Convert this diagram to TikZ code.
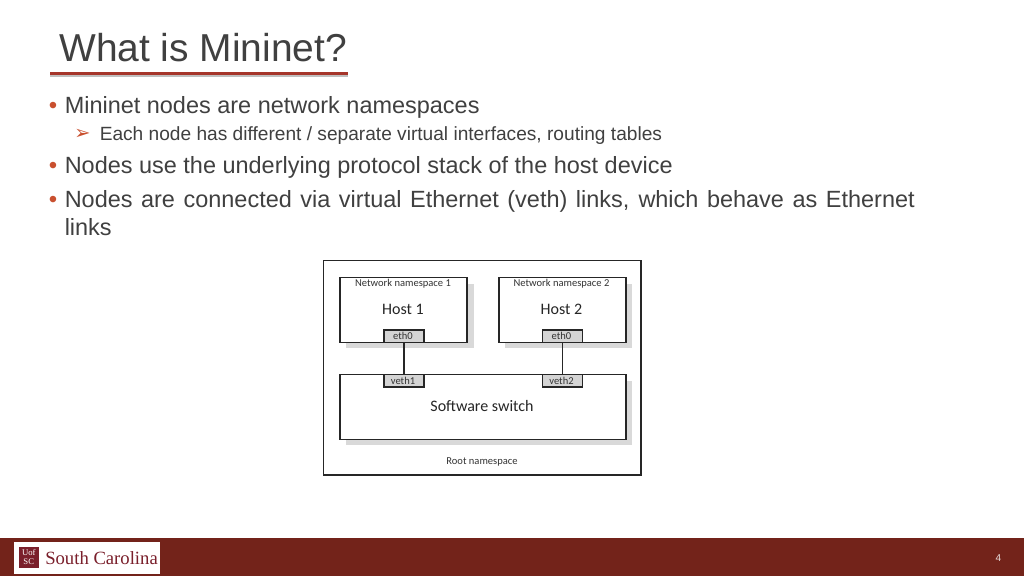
\documentclass[tikz,border=0pt]{standalone}
\usepackage{fontspec}
\setmainfont{Liberation Sans}
\newfontfamily\diagfont{Carlito}
\newfontfamily\logofont{Liberation Serif}
\newfontfamily\symfont{DejaVu Sans}
\definecolor{barred}{HTML}{73231A}
\definecolor{rulered}{HTML}{A5352A}
\definecolor{bulletred}{HTML}{C9502F}
\definecolor{garnet}{HTML}{7A1F2B}
\definecolor{bodytext}{HTML}{404040}
\definecolor{shadowgray}{HTML}{D9D9D9}
\definecolor{portgray}{HTML}{D4D4D4}
\definecolor{linegray}{HTML}{262626}
\tikzset{
  x=0.75pt,y=-0.75pt,
  txt/.style={anchor=base west,inner sep=0pt,text=bodytext},
  bodyline/.style={txt,font=\fontsize{17.6}{18}\selectfont},
  subline/.style={txt,font=\fontsize{14.35}{15}\selectfont},
  bulletdot/.style={anchor=center,inner sep=0pt,text=bulletred,font=\fontsize{18}{18}\selectfont},
  frame/.style={draw=linegray,line width=1pt,fill=white},
  shade/.style={fill=shadowgray,draw=none},
  port/.style={draw=linegray,line width=1pt,fill=portgray},
  dlabel/.style={anchor=base,inner sep=0pt,text=black!80,font=\diagfont\fontsize{7.9}{9}\selectfont},
  dbig/.style={anchor=base,inner sep=0pt,text=black!85,font=\diagfont\fontsize{12}{13}\selectfont},
  wire/.style={draw=linegray,line width=1pt}
}
\begin{document}
\begin{tikzpicture}
\useasboundingbox (0,0) rectangle (1024,576);
\fill[white] (0,0) rectangle (1024,576);
% title
\node[txt,font=\fontsize{29.2}{30}\selectfont] (title) at (59,61.5) {What is Mininet?};
\fill[black!25] (50,74.8) rectangle (348,76.8);
\fill[rulered] (50,72) rectangle (348,74.8);
% body
\node[bulletdot] (b1) at (53,107.5) {•};
\node[bodyline] (t1) at (64.5,113) {Mininet nodes are network namespaces};
\node[anchor=center,inner sep=0pt,text=bulletred,font=\symfont\fontsize{14.5}{15}\selectfont] (b1a) at (82.5,134) {➢};
\node[subline] (t1a) at (99.5,140) {Each node has different / separate virtual interfaces, routing tables};
\node[bulletdot] (b2) at (53,167.5) {•};
\node[bodyline] (t2) at (64.5,173) {Nodes use the underlying protocol stack of the host device};
\node[bulletdot] (b3) at (53,201.5) {•};
\node[bodyline] (t3) at (64.5,207) {\makebox[637.5pt][s]{Nodes are connected via virtual Ethernet (veth) links, which behave as Ethernet}};
\node[bodyline] (t3b) at (64.5,235) {links};
% diagram
\draw[frame] (323.7,260.7) rectangle (641,475);
\fill[shade] (345.8,283.5) rectangle (473.5,348.2);
\fill[shade] (504.8,283.5) rectangle (631.8,348.2);
\fill[shade] (345.8,380.5) rectangle (631.8,445.2);
\node[frame,minimum width=95.25pt,minimum height=48.5pt,inner sep=0pt,anchor=north west] (h1) at (339.3,277) {};
\node[frame,minimum width=95.25pt,minimum height=48.5pt,inner sep=0pt,anchor=north west] (h2) at (498.3,277) {};
\node[frame,minimum width=214.5pt,minimum height=48.5pt,inner sep=0pt,anchor=north west] (sw) at (339.3,374) {};
\node[port,minimum width=30pt,minimum height=9.3pt,inner sep=0pt,anchor=north west] (e1) at (383.3,329.3) {};
\node[port,minimum width=30pt,minimum height=9.3pt,inner sep=0pt,anchor=north west] (e2) at (541.7,329.3) {};
\node[port,minimum width=30pt,minimum height=9.3pt,inner sep=0pt,anchor=north west] (v1) at (383.3,374) {};
\node[port,minimum width=30pt,minimum height=9.3pt,inner sep=0pt,anchor=north west] (v2) at (541.7,374) {};
\draw[wire] (e1.south) -- (v1.north);
\draw[wire] (e2.south) -- (v2.north);
\node[dlabel] (l1) at (403,286.5) {Network namespace 1};
\node[dlabel] (l2) at (561.5,286.5) {Network namespace 2};
\node[dbig] (l3) at (403,314) {Host 1};
\node[dbig] (l4) at (561.5,314) {Host 2};
\node[dlabel] (l5) at (403,339) {eth0};
\node[dlabel] (l6) at (561.5,339) {eth0};
\node[dlabel] (l7) at (403,384) {veth1};
\node[dlabel] (l8) at (561.5,384) {veth2};
\node[dbig] (l9) at (482,411) {Software switch};
\node[dlabel] (l10) at (482,464) {Root namespace};
% footer
\fill[barred] (0,538) rectangle (1024,576);
\fill[white] (14,542) rectangle (160,574);
\fill[garnet] (19,547) rectangle (38.7,567.7);
\node[inner sep=0pt,align=center,text=white,font=\logofont\fontsize{6.5}{6.5}\selectfont] (emb) at (28.8,557.3) {Uof\\SC};
\node[anchor=base west,inner sep=0pt,text=garnet,font=\logofont\fontsize{14}{14}\selectfont] (logo) at (45,564) {South Carolina};
\node[inner sep=0pt,text=white!85!barred,font=\fontsize{7.5}{8}\selectfont] (num) at (998.5,558) {4};
\end{tikzpicture}
\end{document}
